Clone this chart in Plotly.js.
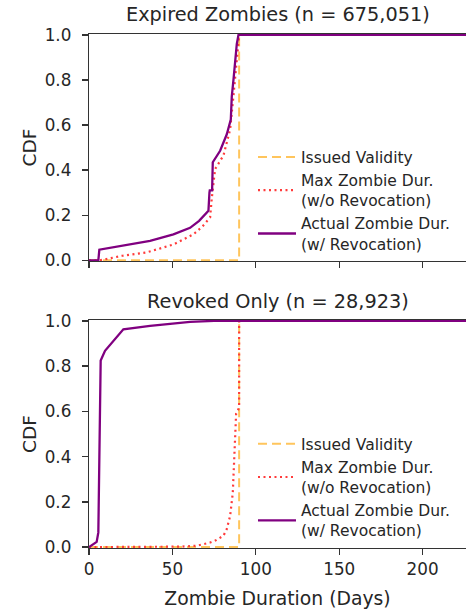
<!DOCTYPE html>
<html>
<head>
<meta charset="utf-8">
<script src="https://cdn.plot.ly/plotly-3.0.1.min.js"></script>
<style>html,body{margin:0;padding:0;background:#fff;}#chart{width:466px;height:613px;}</style>
</head>
<body>
<div id="chart"></div>
<script>
// ---- Data ----
const seriesNames = ["Issued Validity", "Max Zombie Dur.<br>(w/o Revocation)", "Actual Zombie Dur.<br>(w/ Revocation)"];
const panelTitles = ["Expired Zombies (n = 675,051)", "Revoked Only (n = 28,923)"];
const xTicks = [0, 50, 100, 150, 200];
const yTicks = [0, 0.2, 0.4, 0.6, 0.8, 1.0];

// Expired Zombies panel
const expiredIssuedX = [0, 90, 90, 226];
const expiredIssuedY = [0, 0, 1, 1];
const expiredMaxX = [0, 6.6, 20, 34.6, 50.6, 62.6, 68, 72.6, 73.6, 75.6, 80.6, 84.6, 86.6, 88.6, 89.6, 90, 226];
const expiredMaxY = [0, 0, 0.02, 0.035, 0.07, 0.115, 0.15, 0.19, 0.275, 0.405, 0.465, 0.58, 0.73, 0.89, 0.96, 1, 1];
const expiredActualX = [0, 5.6, 6.2, 20, 36.6, 50.6, 60.6, 66, 71.6, 72.2, 72.4, 73.8, 74.2, 78.6, 82.6, 85, 85.6, 86.6, 87.6, 88.6, 89.6, 226];
const expiredActualY = [0, 0, 0.047, 0.065, 0.086, 0.115, 0.144, 0.175, 0.22, 0.30, 0.31, 0.31, 0.435, 0.486, 0.559, 0.624, 0.727, 0.80, 0.89, 0.96, 1.0, 1.0];

// Revoked Only panel
const revokedIssuedX = [0, 90, 90, 226];
const revokedIssuedY = [0, 0, 1, 1];
const revokedMaxX = [0, 40, 55, 64.6, 72.6, 76, 80.6, 82.6, 84.6, 86.2, 87.2, 88.2, 89.6, 90, 90, 226];
const revokedMaxY = [0, 0, 0.002, 0.006, 0.02, 0.03, 0.05, 0.08, 0.138, 0.24, 0.43, 0.59, 0.61, 0.62, 1.0, 1.0];
const revokedActualX = [0, 4.6, 5.6, 6.2, 7, 9.6, 14.6, 20.6, 36.6, 50.6, 60.6, 75, 226];
const revokedActualY = [0, 0.023, 0.065, 0.466, 0.825, 0.868, 0.912, 0.963, 0.978, 0.99, 0.996, 1, 1];

// ---- Styles ----
const FONT = "DejaVu Sans";
const TXT = "#262626";
const AX = "#333333";
const cOrange = "#ffc55c", cRed = "#ff3b3b", cPurple = "#800080";

function mk(x, y, i, xa, ya, leg) {
  const styles = [
    {color: cOrange, width: 2, dash: "9px,5px"},
    {color: cRed, width: 2.2, dash: "2px,3.5px"},
    {color: cPurple, width: 2.3, dash: "solid"}
  ];
  return {x: x, y: y, type: "scatter", mode: "lines", name: seriesNames[i],
    line: styles[i], xaxis: xa, yaxis: ya, legend: leg, showlegend: true, hoverinfo: "skip"};
}

const data = [
  mk(expiredIssuedX, expiredIssuedY, 0, "x", "y", "legend"),
  mk(expiredMaxX, expiredMaxY, 1, "x", "y", "legend"),
  mk(expiredActualX, expiredActualY, 2, "x", "y", "legend"),
  mk(revokedIssuedX, revokedIssuedY, 0, "x2", "y2", "legend2"),
  mk(revokedMaxX, revokedMaxY, 1, "x2", "y2", "legend2"),
  mk(revokedActualX, revokedActualY, 2, "x2", "y2", "legend2")
];

function xax(labels, anchor) {
  return {domain: [0, 1], range: [0, 226], anchor: anchor, tickvals: xTicks,
    showticklabels: labels, ticks: "outside", ticklen: 6, tickwidth: 1.3, tickcolor: AX,
    showline: true, linecolor: AX, linewidth: 1.3, mirror: true, showgrid: false, zeroline: false,
    tickfont: {family: FONT, size: 16.8, color: TXT}};
}
function yax(dom, anchor) {
  return {domain: dom, range: [-0.004, 1.004], anchor: anchor, tickvals: yTicks, tickformat: ".1f",
    ticks: "outside", ticklen: 6, tickwidth: 1.3, tickcolor: AX, ticklabelstandoff: 7,
    showline: true, linecolor: AX, linewidth: 1.3, showgrid: false, zeroline: false,
    tickfont: {family: FONT, size: 16.8, color: TXT},
    title: {text: "CDF", font: {family: FONT, size: 18.5, color: TXT}, standoff: 3}};
}

const x2 = xax(true, "y2");
x2.title = {text: "Zombie Duration (Days)", font: {family: FONT, size: 18.8, color: TXT}, standoff: 13};

const legendCommon = {bgcolor: "rgba(0,0,0,0)", borderwidth: 0, font: {family: FONT, size: 15.5, color: TXT},
  xanchor: "left", yanchor: "top", itemwidth: 38, tracegroupgap: 0};

const layout = {
  width: 466, height: 613,
  margin: {l: 89, r: 0, t: 34, b: 65},
  paper_bgcolor: "#ffffff", plot_bgcolor: "#ffffff",
  font: {family: FONT, color: TXT},
  xaxis: xax(false, "y"),
  yaxis: yax([0.558, 1], "x"),
  xaxis2: x2,
  yaxis2: yax([0, 0.4436], "x2"),
  legend: Object.assign({x: 0.435, y: 0.793}, legendCommon),
  legend2: Object.assign({x: 0.435, y: 0.235}, legendCommon),
  annotations: [
    {text: panelTitles[0], xref: "paper", yref: "paper", x: 0.5, y: 1.037, xanchor: "center", yanchor: "middle",
     showarrow: false, font: {family: FONT, size: 19.3, color: TXT}},
    {text: panelTitles[1], xref: "paper", yref: "paper", x: 0.5, y: 0.4786, xanchor: "center", yanchor: "middle",
     showarrow: false, font: {family: FONT, size: 19.3, color: TXT}}
  ],
  showlegend: true
};

Plotly.newPlot("chart", data, layout, {staticPlot: true, displayModeBar: false});
</script>
</body>
</html>
